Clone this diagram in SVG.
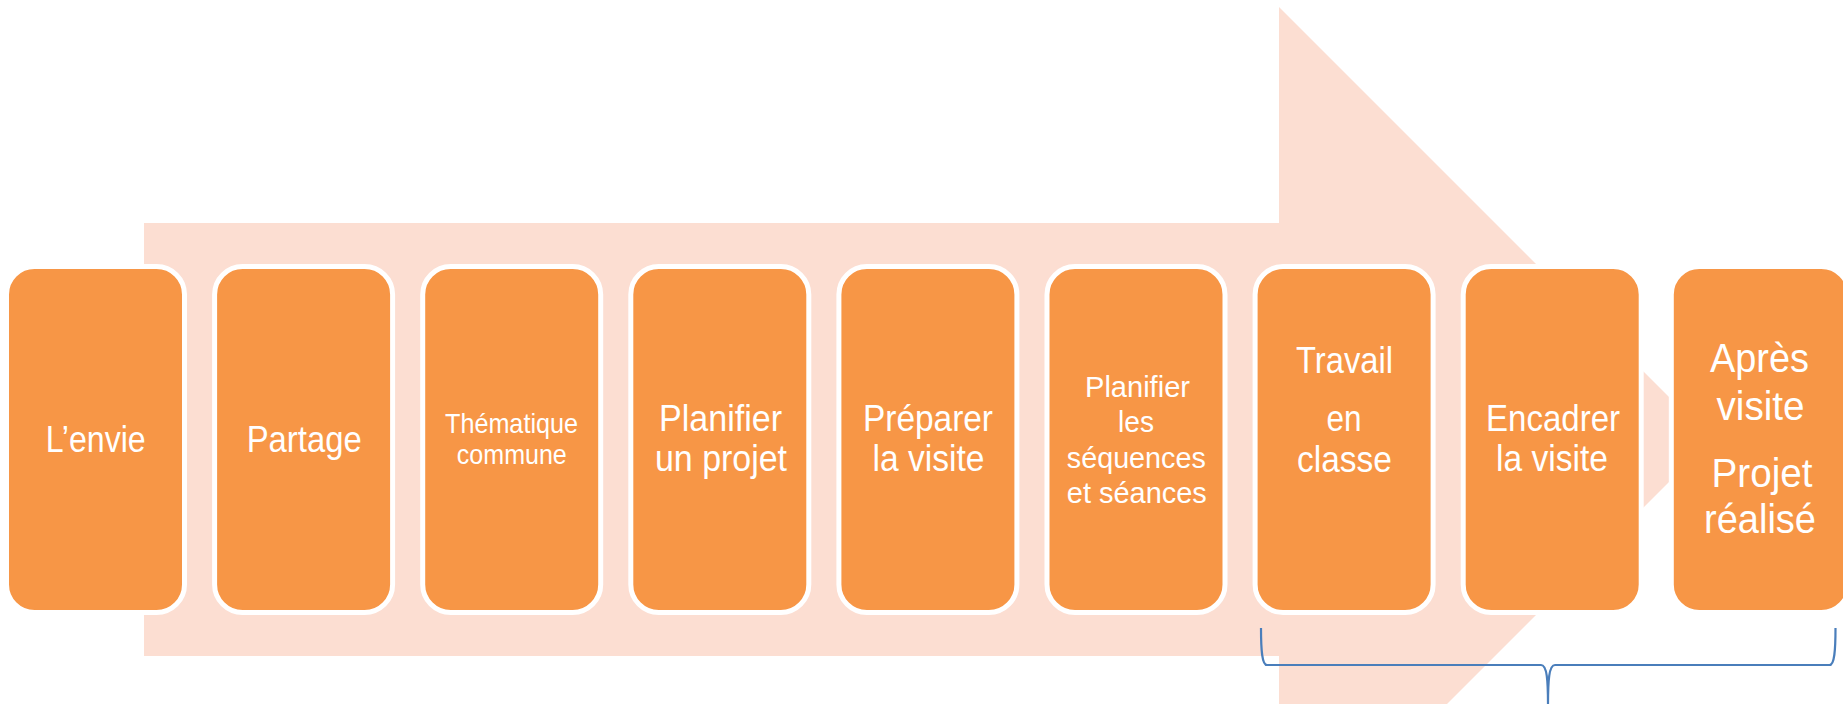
<svg xmlns="http://www.w3.org/2000/svg" width="1843" height="704" viewBox="0 0 1843 704">
<style>
.box{fill:#F79646;stroke:#FFFFFF;stroke-width:5}
.t{font-family:"Liberation Sans","Arial",sans-serif;fill:#FFFFFF;text-anchor:middle}
.s37{font-size:37px}
.s28{font-size:28px}
.s30{font-size:30px}
.s40{font-size:40px}
.brace{fill:none;stroke:#4A7EBB;stroke-width:2.2}
</style>
<rect width="1843" height="704" fill="#FFFFFF"/>
<g id="arrow">
<polygon points="144,223 1279,223 1279,7 1711.5,439.5 1279,872 1279,656 144,656" fill="#FCDED2"/>
</g>
<g id="n1"><rect class="box" x="6.5" y="266.5" width="178" height="346" rx="28"/><text class="t s37" x="95.7" y="452" textLength="100" lengthAdjust="spacingAndGlyphs">L’envie</text></g>
<g id="n2"><rect class="box" x="214.6" y="266.5" width="178" height="346" rx="28"/><text class="t s37" x="304.2" y="452" textLength="115" lengthAdjust="spacingAndGlyphs">Partage</text></g>
<g id="n3"><rect class="box" x="422.7" y="266.5" width="178" height="346" rx="28"/><text class="t s28" x="511.5" y="433" textLength="133" lengthAdjust="spacingAndGlyphs">Thématique</text><text class="t s28" x="511.8" y="464" textLength="110" lengthAdjust="spacingAndGlyphs">commune</text></g>
<g id="n4"><rect class="box" x="630.8" y="266.5" width="178" height="346" rx="28"/><text class="t s37" x="720.5" y="431" textLength="123" lengthAdjust="spacingAndGlyphs">Planifier</text><text class="t s37" x="721" y="471" textLength="132" lengthAdjust="spacingAndGlyphs">un projet</text></g>
<g id="n5"><rect class="box" x="838.9" y="266.5" width="178" height="346" rx="28"/><text class="t s37" x="928" y="431" textLength="130" lengthAdjust="spacingAndGlyphs">Préparer</text><text class="t s37" x="928.5" y="471" textLength="112" lengthAdjust="spacingAndGlyphs">la visite</text></g>
<g id="n6"><rect class="box" x="1047" y="266.5" width="178" height="346" rx="28"/><text class="t s30" x="1137.5" y="397" textLength="105" lengthAdjust="spacingAndGlyphs">Planifier</text><text class="t s30" x="1136" y="432" textLength="36" lengthAdjust="spacingAndGlyphs">les</text><text class="t s30" x="1136.3" y="468" textLength="139" lengthAdjust="spacingAndGlyphs">séquences</text><text class="t s30" x="1136.8" y="503" textLength="140" lengthAdjust="spacingAndGlyphs">et séances</text></g>
<g id="n7"><rect class="box" x="1255.1" y="266.5" width="178" height="346" rx="28"/><text class="t s37" x="1344.5" y="373" textLength="97" lengthAdjust="spacingAndGlyphs">Travail</text><text class="t s37" x="1344" y="431" textLength="35" lengthAdjust="spacingAndGlyphs">en</text><text class="t s37" x="1344.5" y="472" textLength="95" lengthAdjust="spacingAndGlyphs">classe</text></g>
<g id="n8"><rect class="box" x="1463.2" y="266.5" width="178" height="346" rx="28"/><text class="t s37" x="1553" y="431" textLength="134" lengthAdjust="spacingAndGlyphs">Encadrer</text><text class="t s37" x="1552" y="471" textLength="112" lengthAdjust="spacingAndGlyphs">la visite</text></g>
<g id="n9"><rect class="box" x="1671.3" y="266.5" width="178" height="346" rx="28"/><text class="t s40" x="1759.5" y="372" textLength="99" lengthAdjust="spacingAndGlyphs">Après</text><text class="t s40" x="1760.5" y="420" textLength="88" lengthAdjust="spacingAndGlyphs">visite</text><text class="t s40" x="1762" y="487" textLength="101" lengthAdjust="spacingAndGlyphs">Projet</text><text class="t s40" x="1760" y="533" textLength="112" lengthAdjust="spacingAndGlyphs">réalisé</text></g>
<g id="connectors">
<path class="brace" d="M1261,628 C1261,650 1262,665 1267,665 L1541,665 C1547,665 1548,680 1548,706 M1835.5,628 C1835.5,650 1834.5,665 1829.5,665 L1555,665 C1549,665 1548,680 1548,706"/>
</g>
</svg>
